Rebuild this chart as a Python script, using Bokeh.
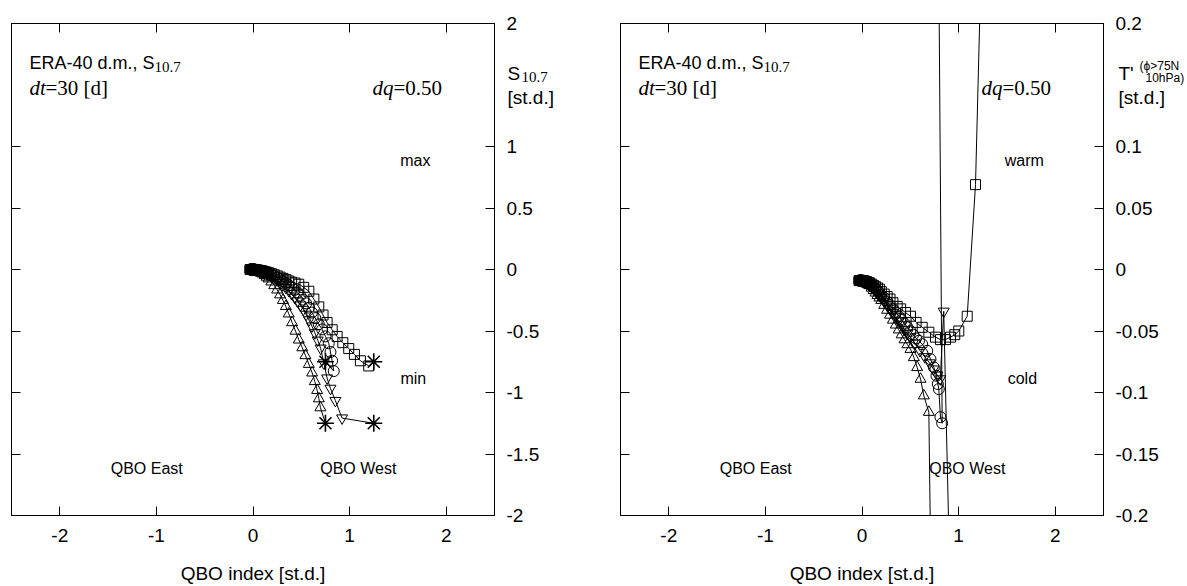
from bokeh.plotting import figure
from bokeh.models import Range1d, LinearAxis, FixedTicker, Label
from bokeh.core.properties import value
from bokeh.layouts import row
from bokeh.embed import file_html
from bokeh.resources import INLINE

# ---------------- data ----------------
X_TICKS = [-2, -1, 0, 1, 2]
X_LABELS = ["-2", "-1", "0", "1", "2"]
L_Y_TICKS = [-2, -1.5, -1, -0.5, 0, 0.5, 1, 2]
L_Y_LABELS = ["-2", "-1.5", "-1", "-0.5", "0", "0.5", "1", "2"]
R_Y_TICKS = [-0.2, -0.15, -0.1, -0.05, 0, 0.05, 0.1, 0.2]
R_Y_LABELS = ["-0.2", "-0.15", "-0.1", "-0.05", "0", "0.05", "0.1", "0.2"]

# Left panel (S10.7 vs QBO)
L_SQ_X = [-0.03, -0.02, -0.01, 0.0, 0.01, 0.02, 0.03, 0.04, 0.055, 0.07, 0.085, 0.10, 0.12, 0.14, 0.16, 0.19, 0.22,
          0.25, 0.28, 0.31, 0.34, 0.37, 0.40, 0.435, 0.474, 0.525, 0.578, 0.63, 0.681, 0.725, 0.767, 0.82, 0.871,
          0.93, 0.991, 1.05, 1.112, 1.198]
L_SQ_Y = [0.0, 0.0, 0.0, 0.0, 0.0, 0.0, -0.002, -0.004, -0.006, -0.008, -0.01, -0.013, -0.017, -0.022, -0.026, -0.034,
          -0.043, -0.052, -0.062, -0.072, -0.082, -0.093, -0.103, -0.11, -0.12, -0.145, -0.177, -0.24, -0.304, -0.37,
          -0.431, -0.49, -0.544, -0.595, -0.643, -0.69, -0.742, -0.784]
L_CI_X = [-0.03, -0.02, -0.01, 0.0, 0.01, 0.02, 0.03, 0.04, 0.055, 0.07, 0.085, 0.10, 0.12, 0.14, 0.16, 0.19, 0.22,
          0.25, 0.28, 0.31, 0.34, 0.37, 0.40, 0.43, 0.46, 0.49, 0.52, 0.55, 0.58, 0.61, 0.645, 0.681, 0.716, 0.75,
          0.784, 0.802, 0.819, 0.836]
L_CI_Y = [0.0, 0.0, 0.0, 0.0, 0.0, -0.001, -0.003, -0.005, -0.008, -0.01, -0.013, -0.016, -0.021, -0.027, -0.032,
          -0.042, -0.053, -0.065, -0.079, -0.094, -0.11, -0.127, -0.146, -0.166, -0.188, -0.212, -0.245, -0.275,
          -0.31, -0.35, -0.395, -0.445, -0.487, -0.544, -0.60, -0.671, -0.742, -0.826]
L_DT_X = [-0.03, -0.02, -0.01, 0.0, 0.01, 0.02, 0.03, 0.04, 0.055, 0.07, 0.085, 0.10, 0.12, 0.14, 0.16, 0.19, 0.22,
          0.25, 0.28, 0.31, 0.34, 0.37, 0.40, 0.43, 0.46, 0.49, 0.52, 0.55, 0.58, 0.61, 0.64, 0.67, 0.70, 0.733,
          0.767, 0.802, 0.853, 0.922]
L_DT_Y = [0.0, 0.0, 0.0, 0.0, -0.001, -0.002, -0.004, -0.006, -0.009, -0.012, -0.016, -0.02, -0.027, -0.035, -0.042,
          -0.055, -0.07, -0.087, -0.105, -0.125, -0.147, -0.171, -0.197, -0.226, -0.257, -0.29, -0.325, -0.365,
          -0.41, -0.46, -0.515, -0.575, -0.64, -0.76, -0.883, -0.967, -1.066, -1.208]
L_UT_X = [-0.03, -0.02, -0.01, 0.0, 0.01, 0.02, 0.03, 0.04, 0.055, 0.07, 0.085, 0.10, 0.12, 0.14, 0.16, 0.19, 0.22,
          0.25, 0.28, 0.31, 0.34, 0.37, 0.405, 0.44, 0.474, 0.51, 0.543, 0.578, 0.612, 0.64, 0.664, 0.682, 0.698]
L_UT_Y = [0.0, 0.0, 0.0, 0.0, -0.001, -0.003, -0.005, -0.008, -0.013, -0.02, -0.027, -0.035, -0.047, -0.061, -0.075,
          -0.1, -0.13, -0.165, -0.205, -0.25, -0.3, -0.36, -0.431, -0.50, -0.572, -0.635, -0.699, -0.77, -0.84,
          -0.91, -0.982, -1.05, -1.123]
L_END_X = [1.25, 0.75, 1.25, 0.75]
L_END_Y = [-0.75, -0.75, -1.25, -1.25]

# Right panel (T' polar cap 10 hPa vs QBO)
R_SQ_X = [-0.03, -0.02, -0.01, 0.0, 0.01, 0.02, 0.03, 0.04, 0.05, 0.06, 0.07, 0.08, 0.10, 0.12, 0.14, 0.16, 0.18,
          0.20, 0.23, 0.26, 0.29, 0.32, 0.364, 0.40, 0.45, 0.502, 0.56, 0.623, 0.692, 0.761, 0.812, 0.864, 0.916,
          0.96, 1.002, 1.089, 1.175]
R_SQ_Y = [-0.009, -0.009, -0.009, -0.009, -0.009, -0.0095, -0.0095, -0.010, -0.010, -0.0105, -0.011, -0.011, -0.012,
          -0.013, -0.014, -0.015, -0.016, -0.018, -0.020, -0.022, -0.024, -0.027, -0.030, -0.032, -0.035, -0.038,
          -0.043, -0.047, -0.051, -0.055, -0.057, -0.057, -0.055, -0.053, -0.050, -0.038, 0.069]
R_CI_X = [-0.03, -0.02, -0.01, 0.0, 0.01, 0.02, 0.03, 0.04, 0.05, 0.06, 0.07, 0.08, 0.10, 0.12, 0.14, 0.16, 0.18,
          0.20, 0.23, 0.26, 0.29, 0.32, 0.35, 0.38, 0.41, 0.44, 0.47, 0.50, 0.53, 0.56, 0.59, 0.623, 0.675, 0.709,
          0.744, 0.771, 0.785, 0.795, 0.812, 0.830]
R_CI_Y = [-0.009, -0.009, -0.009, -0.009, -0.009, -0.0095, -0.0095, -0.010, -0.0105, -0.011, -0.0115, -0.012,
          -0.013, -0.014, -0.016, -0.017, -0.019, -0.021, -0.023, -0.026, -0.029, -0.032, -0.035, -0.038, -0.041,
          -0.044, -0.047, -0.050, -0.053, -0.056, -0.058, -0.0607, -0.0661, -0.0729, -0.0796, -0.0864, -0.0931,
          -0.0972, -0.120, -0.125]
R_DT_X = [-0.03, -0.02, -0.01, 0.0, 0.01, 0.02, 0.03, 0.04, 0.05, 0.06, 0.07, 0.08, 0.10, 0.12, 0.14, 0.16, 0.18,
          0.20, 0.23, 0.26, 0.29, 0.32, 0.35, 0.38, 0.41, 0.44, 0.47, 0.50, 0.55, 0.60, 0.65, 0.70, 0.74, 0.78,
          0.81, 0.846]
R_DT_Y = [-0.009, -0.009, -0.009, -0.009, -0.0092, -0.0095, -0.0098, -0.0102, -0.0107, -0.0112, -0.0118, -0.0125,
          -0.0135, -0.015, -0.017, -0.019, -0.021, -0.023, -0.026, -0.029, -0.032, -0.035, -0.038, -0.042, -0.045,
          -0.049, -0.052, -0.055, -0.060, -0.066, -0.071, -0.076, -0.081, -0.086, -0.089, -0.034]
R_UT_X = [-0.03, -0.02, -0.01, 0.0, 0.01, 0.02, 0.03, 0.04, 0.05, 0.06, 0.07, 0.08, 0.10, 0.12, 0.14, 0.16, 0.18,
          0.20, 0.23, 0.26, 0.29, 0.32, 0.35, 0.38, 0.41, 0.44, 0.47, 0.502, 0.537, 0.571, 0.606, 0.640, 0.692]
R_UT_Y = [-0.009, -0.009, -0.009, -0.0093, -0.0097, -0.010, -0.0105, -0.011, -0.0115, -0.012, -0.0125, -0.013,
          -0.015, -0.017, -0.019, -0.021, -0.023, -0.025, -0.029, -0.033, -0.037, -0.041, -0.045, -0.049, -0.053,
          -0.057, -0.061, -0.0648, -0.0715, -0.0796, -0.0891, -0.1026, -0.116]
R_END_X = [1.26, 0.79, 0.93, 0.73]
R_END_Y = [0.33, 0.30, -0.32, -0.35]

MARKERS = ["square", "circle", "inverted_triangle", "triangle"]
MARKER_SIZES = [10, 11, 11, 11]

SANS = "Liberation Sans"
SERIF = "Liberation Serif"


def style_axis(ax, ticks, labels):
    ax.ticker = FixedTicker(ticks=ticks)
    ax.axis_line_color = "black"
    ax.major_tick_line_color = "black"
    ax.major_tick_in = 9
    ax.major_tick_out = 0
    ax.minor_tick_line_color = None
    if labels is None:
        ax.major_label_overrides = {t: "" for t in ticks}
        ax.major_label_text_font_size = "0px"
        ax.major_label_standoff = 0
    else:
        ax.major_label_overrides = dict(zip(ticks, labels))
        ax.major_label_text_font = SANS
        ax.major_label_text_font_size = "19px"
        ax.major_label_text_color = "black"


def add_text(p, x, y, text, font=SANS, size="16px", style="normal", align="left", xo=0, yo=0):
    p.add_layout(Label(x=x, y=y, text=text, text_font=font, text_font_size=size, text_font_style=style,
                       text_align=align, text_baseline="middle", x_offset=xo, y_offset=yo, text_color="black"))


def add_side_text(p, x, y, text, font=SANS, size="19px", xo=0, yo=0):
    # text glyph drawn at the overlay level, so that it is not clipped to the frame
    r = p.text(x=[x], y=[y], text=[text], text_font=value(font), text_font_size=value(size),
               text_align="left", text_baseline="middle", x_offset=xo, y_offset=yo, text_color="black")
    r.level = "overlay"


def make_panel(ymin, ymax, yticks, ylabels, series, end_x, end_y, border_left, border_right, width):
    p = figure(width=width, height=586, x_range=Range1d(-2.5, 2.5), y_range=Range1d(ymin, ymax),
               y_axis_location="right", output_backend="svg", toolbar_location=None,
               min_border_left=border_left, min_border_right=border_right, min_border_top=23,
               min_border_bottom=69)
    p.grid.visible = False
    p.outline_line_color = "black"
    p.background_fill_color = "white"
    p.border_fill_color = "white"

    style_axis(p.xaxis[0], X_TICKS, X_LABELS)
    p.xaxis[0].major_label_standoff = 13
    p.xaxis[0].axis_label = "QBO index [st.d.]"
    p.xaxis[0].axis_label_text_font = SANS
    p.xaxis[0].axis_label_text_font_size = "19px"
    p.xaxis[0].axis_label_text_font_style = "normal"
    p.xaxis[0].axis_label_text_color = "black"
    p.xaxis[0].axis_label_standoff = 18
    style_axis(p.yaxis[0], yticks, ylabels)
    p.yaxis[0].major_label_standoff = 12

    top = LinearAxis()
    style_axis(top, X_TICKS, None)
    p.add_layout(top, "above")
    left = LinearAxis()
    style_axis(left, yticks, None)
    p.add_layout(left, "left")

    for (sx, sy), ex, ey, mk, ms in zip(series, end_x, end_y, MARKERS, MARKER_SIZES):
        p.line(sx + [ex], sy + [ey], line_color="black", line_width=1)
        p.scatter(sx, sy, marker=mk, size=ms, fill_color=None, line_color="black", line_width=1)
    p.scatter(end_x, end_y, marker="asterisk", size=17, line_color="black", line_width=1.6)
    return p


# ---------------- left panel ----------------
p1 = make_panel(-2, 2, L_Y_TICKS, L_Y_LABELS,
                [(L_SQ_X, L_SQ_Y), (L_CI_X, L_CI_Y), (L_DT_X, L_DT_Y), (L_UT_X, L_UT_Y)],
                L_END_X, L_END_Y, 11, 99, 593)
add_text(p1, -2.314, 1.676, "ERA-40 d.m., S", size="18px")
add_text(p1, -2.314, 1.676, "10.7", font=SERIF, size="15px", xo=125, yo=-4)
add_text(p1, -2.314, 1.474, "dt", font=SERIF, size="21px", style="italic")
add_text(p1, -2.314, 1.474, "=30 [d]", font=SERIF, size="21px", xo=16)
add_text(p1, 1.237, 1.474, "dq", font=SERIF, size="21px", style="italic")
add_text(p1, 1.237, 1.474, "=0.50", font=SERIF, size="21px", xo=21)
add_text(p1, 1.68, 0.89, "max", size="16px", align="center")
add_text(p1, 1.66, -0.89, "min", size="16px", align="center")
add_text(p1, -1.1, -1.62, "QBO East", size="16px", align="center")
add_text(p1, 1.09, -1.62, "QBO West", size="16px", align="center")
add_side_text(p1, 2.5, 1.595, "S", xo=13)
add_side_text(p1, 2.5, 1.595, "10.7", font=SERIF, size="15px", xo=27, yo=4)
add_side_text(p1, 2.5, 1.40, "[st.d.]", xo=13)

# ---------------- right panel ----------------
p2 = make_panel(-0.2, 0.2, R_Y_TICKS, R_Y_LABELS,
                [(R_SQ_X, R_SQ_Y), (R_CI_X, R_CI_Y), (R_DT_X, R_DT_Y), (R_UT_X, R_UT_Y)],
                R_END_X, R_END_Y, 27, 84, 594)
add_text(p2, -2.314, 0.1676, "ERA-40 d.m., S", size="18px")
add_text(p2, -2.314, 0.1676, "10.7", font=SERIF, size="15px", xo=125, yo=-4)
add_text(p2, -2.314, 0.1474, "dt", font=SERIF, size="21px", style="italic")
add_text(p2, -2.314, 0.1474, "=30 [d]", font=SERIF, size="21px", xo=16)
add_text(p2, 1.237, 0.1474, "dq", font=SERIF, size="21px", style="italic")
add_text(p2, 1.237, 0.1474, "=0.50", font=SERIF, size="21px", xo=21)
add_text(p2, 1.68, 0.089, "warm", size="16px", align="center")
add_text(p2, 1.66, -0.089, "cold", size="16px", align="center")
add_text(p2, -1.1, -0.162, "QBO East", size="16px", align="center")
add_text(p2, 1.09, -0.162, "QBO West", size="16px", align="center")
add_side_text(p2, 2.5, 0.1595, "T'", xo=15)
add_side_text(p2, 2.5, 0.1595, "(\u03d5>75N", size="12px", xo=36, yo=-7)
add_side_text(p2, 2.5, 0.1595, "10hPa)", size="12px", xo=42, yo=5)
add_side_text(p2, 2.5, 0.140, "[st.d.]", xo=15)

layout = row(p1, p2)
open("out.html", "w").write(file_html(layout, INLINE))
